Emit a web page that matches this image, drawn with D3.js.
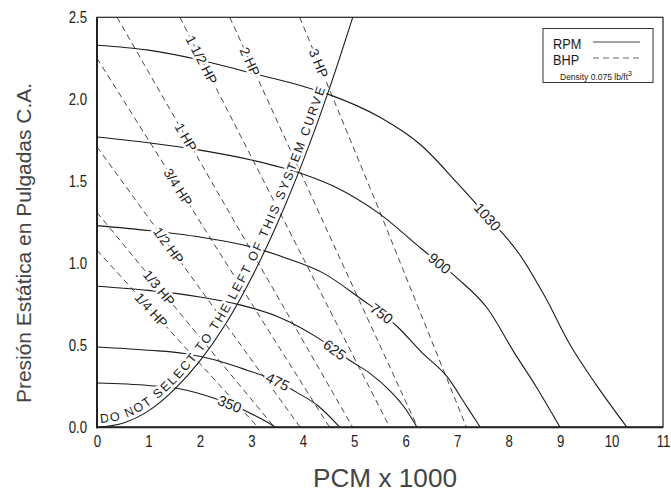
<!DOCTYPE html>
<html><head><meta charset="utf-8">
<script src="https://cdn.jsdelivr.net/npm/d3@7"></script>
<style>
body{margin:0;background:#fff}
svg{display:block}
</style></head><body>
<svg id="c" width="671" height="493"></svg>
<script>
// ---------- data ----------
const xTickValues = [0,1,2,3,4,5,6,7,8,9,10,11];
const yTickValues = [0,0.5,1.0,1.5,2.0,2.5];

const rpmNames = ["1030","900","750","625","475","350"];
const rpm1030 = [[0,2.33],[1,2.30],[2,2.24],[3,2.16],[4,2.08],[4.5,2.03],[5.5,1.89],[6.3,1.72],[7.0,1.49],[7.6,1.28],[8.2,1.06],[8.7,0.80],[9.2,0.50],[9.7,0.26],[10.3,0]];
const rpm900  = [[0,1.77],[1,1.735],[2,1.69],[3,1.63],[4,1.545],[4.6,1.47],[5.5,1.30],[6.3,1.09],[7.0,0.91],[7.6,0.72],[8.1,0.46],[8.55,0.24],[9.0,0]];
const rpm750  = [[0,1.23],[1,1.20],[2,1.16],[3,1.10],[3.6,1.04],[4.4,0.94],[5.1,0.79],[5.85,0.61],[6.3,0.46],[6.8,0.31],[7.2,0.12],[7.45,0]];
const rpm625  = [[0,0.86],[1,0.835],[2,0.795],[2.8,0.745],[3.55,0.67],[4.27,0.55],[4.9,0.41],[5.3,0.33],[5.7,0.22],[6.0,0.11],[6.22,0]];
const rpm475  = [[0,0.49],[1,0.47],[1.7,0.45],[2.3,0.41],[2.9,0.35],[3.5,0.28],[3.9,0.21],[4.3,0.13],[4.72,0]];
const rpm350  = [[0,0.27],[1,0.255],[1.6,0.235],[2.25,0.18],[2.6,0.14],[2.95,0.09],[3.2,0.05],[3.47,0]];
const rpmSeries = [rpm1030,rpm900,rpm750,rpm625,rpm475,rpm350];
const rpmLabelX = [7.59,6.66,5.53,4.62,3.51,2.58];

const bhpNames = ["3 HP","2 HP","1 1/2 HP","1 HP","3/4 HP","1/2 HP","1/3 HP","1/4 HP"];
const bhp3  = [[3.94,2.5],[5.45,1.35],[7.18,0]];
const bhp2  = [[2.58,2.5],[4.40,1.25],[6.23,0]];
const bhp15 = [[1.61,2.5],[3.65,1.25],[5.69,0]];
const bhp1  = [[0.39,2.5],[2.68,1.25],[4.97,0]];
const bhp34 = [[0,2.25],[2.26,1.125],[4.52,0]];
const bhp12 = [[0,1.71],[1.98,0.855],[3.95,0]];
const bhp13 = [[0,1.31],[1.72,0.655],[3.45,0]];
const bhp14 = [[0,1.08],[1.56,0.54],[3.13,0]];
const bhpSeries = [bhp3,bhp2,bhp15,bhp1,bhp34,bhp12,bhp13,bhp14];
const bhpLabelY = [2.22,2.23,2.24,1.77,1.465,1.11,0.85,0.715];

const systemCurve = [[0,0],[0.5,0.025],[1,0.10],[1.5,0.23],[2,0.405],[2.5,0.63],[3,0.91],[3.5,1.24],[4,1.62],[4.5,2.05],[4.97,2.5]];
const systemText = "DO NOT SELECT TO THE LEFT OF THIS SYSTEM CURVE";

// ---------- drawing ----------
const svg = d3.select("#c");
const SANS = '"Liberation Sans",Arial,Helvetica,sans-serif';
const SX = 0.8; // horizontal condensing for the condensed axis font
const L = 97, R = 663, T = 17.3, B = 427.3;
const x = d3.scaleLinear().domain([0,11]).range([L,R]);
const y = d3.scaleLinear().domain([0,2.5]).range([B,T]);

svg.append("defs").append("clipPath").attr("id","plot")
  .append("rect").attr("x",L).attr("y",T).attr("width",R-L).attr("height",B-T);

const lineGen = d3.line().x(d=>x(d[0])).y(d=>y(d[1]));
const g = svg.append("g").attr("clip-path","url(#plot)");

const bhpPaths = bhpSeries.map(s => g.append("path")
  .attr("d", lineGen.curve(d3.curveLinear)(s))
  .attr("fill","none").attr("stroke","#333").attr("stroke-width",0.9)
  .attr("stroke-dasharray","6,4").node());

const rpmPaths = rpmSeries.map(s => g.append("path")
  .attr("d", lineGen.curve(d3.curveMonotoneX)(s))
  .attr("fill","none").attr("stroke","#1a1a1a").attr("stroke-width",1.1).node());

const sysPath = g.append("path").attr("id","sys")
  .attr("d", lineGen.curve(d3.curveMonotoneX)(systemCurve))
  .attr("fill","none").attr("stroke","#1a1a1a").attr("stroke-width",1.1).node();

function findBy(node, target, coord){
  const len = node.getTotalLength();
  let lo=0, hi=len;
  const asc = node.getPointAtLength(len)[coord] > node.getPointAtLength(0)[coord];
  for(let i=0;i<40;i++){
    const mid=(lo+hi)/2; const v=node.getPointAtLength(mid)[coord];
    if((v<target)===asc) lo=mid; else hi=mid;
  }
  const l=(lo+hi)/2;
  const p=node.getPointAtLength(l);
  const a=node.getPointAtLength(Math.max(0,l-3)), b=node.getPointAtLength(Math.min(len,l+3));
  return {x:p.x,y:p.y,ang:Math.atan2(b.y-a.y,b.x-a.x)*180/Math.PI};
}
function halo(sel){
  return sel.attr("stroke","#fff").attr("stroke-width",5).attr("stroke-linejoin","round")
    .style("paint-order","stroke");
}
const labels = svg.append("g");

rpmPaths.forEach((node,i)=>{
  const p = findBy(node, x(rpmLabelX[i]), "x");
  halo(labels.append("text")
    .attr("transform",`translate(${p.x},${p.y}) rotate(${p.ang})`)
    .attr("text-anchor","middle").attr("dy","0.36em")
    .attr("font-family",SANS).attr("font-size",14.5).attr("fill","#1a1a1a")
    .text(rpmNames[i]));
});
bhpPaths.forEach((node,i)=>{
  const p = findBy(node, y(bhpLabelY[i]), "y");
  halo(labels.append("text")
    .attr("transform",`translate(${p.x},${p.y}) rotate(${p.ang})`)
    .attr("text-anchor","middle").attr("dy","0.36em")
    .attr("font-family",SANS).attr("font-size",13.5).attr("fill","#1a1a1a")
    .text(bhpNames[i]));
});
const st = labels.append("text").attr("font-family",SANS).attr("font-size",12.5)
  .attr("fill","#1a1a1a").attr("dy",-4);
halo(st);
st.append("textPath").attr("href","#sys").attr("startOffset",4).text(systemText);
{
  const target = 424;
  const natural = st.node().getComputedTextLength();
  st.attr("letter-spacing", (target - natural) / (systemText.length - 1));
}

// frame
svg.append("rect").attr("x",L).attr("y",T).attr("width",R-L).attr("height",B-T)
  .attr("fill","none").attr("stroke","#222").attr("stroke-width",1.2);
svg.append("line").attr("x1",L).attr("x2",L).attr("y1",T).attr("y2",B+1)
  .attr("stroke","#222").attr("stroke-width",2);
svg.append("line").attr("x1",L-1).attr("x2",R).attr("y1",B).attr("y2",B)
  .attr("stroke","#222").attr("stroke-width",2);

// axes
const xAxis = svg.append("g").attr("transform",`translate(0,${B})`)
  .call(d3.axisBottom(x).tickValues(xTickValues).tickSize(0).tickPadding(8).tickFormat(d3.format("d")));
const yAxis = svg.append("g").attr("transform",`translate(${L},0)`)
  .call(d3.axisLeft(y).tickValues(yTickValues).tickSize(0).tickPadding(10).tickFormat(d3.format(".1f")));
[xAxis,yAxis].forEach(a=>{
  a.select(".domain").remove();
  a.selectAll("text").attr("font-family",SANS).attr("font-size",16.5).attr("fill","#222")
    .attr("transform",`scale(${SX},1)`);
});
yAxis.selectAll("text").attr("x",-10/SX);

// axis titles (condensed look)
svg.append("text").attr("transform","translate(31,243) rotate(-90)")
  .attr("text-anchor","middle").attr("font-family",SANS).attr("font-size",21)
  .attr("fill","#444").attr("textLength",320).attr("lengthAdjust","spacingAndGlyphs")
  .text("Presión Estática en Pulgadas C.A.");
svg.append("text").attr("x",385).attr("y",487)
  .attr("text-anchor","middle").attr("font-family",SANS).attr("font-size",26)
  .attr("fill","#444").attr("textLength",144).attr("lengthAdjust","spacingAndGlyphs")
  .text("PCM x 1000");

// legend
const lg = svg.append("g");
lg.append("rect").attr("x",543).attr("y",28.5).attr("width",110).attr("height",54)
  .attr("fill","#fff").attr("stroke","#333").attr("stroke-width",1);
[["RPM",48.5],["BHP",64.5]].forEach(([t,yy])=>{
  lg.append("text").attr("transform",`translate(553,${yy}) scale(0.85,1)`)
    .attr("font-family",SANS).attr("font-size",15).attr("fill","#1a1a1a").text(t);
});
lg.append("line").attr("x1",593).attr("x2",640).attr("y1",42).attr("y2",42)
  .attr("stroke","#333").attr("stroke-width",0.9);
lg.append("line").attr("x1",593).attr("x2",640).attr("y1",58).attr("y2",58)
  .attr("stroke","#555").attr("stroke-width",0.9).attr("stroke-dasharray","6,4");
const dt = lg.append("text").attr("x",560).attr("y",80).attr("font-family",SANS)
  .attr("font-size",8.5).attr("fill","#1a1a1a");
dt.append("tspan").text("Density 0.075 lb/ft");
dt.append("tspan").attr("dy",-4).attr("font-size",7).text("3");
</script>
</body></html>
